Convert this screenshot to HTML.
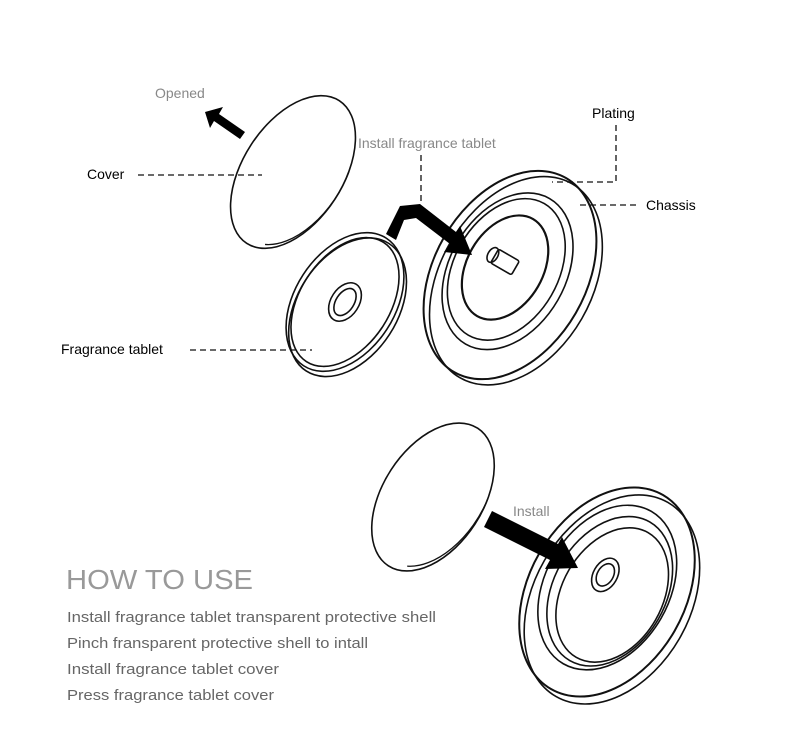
<!DOCTYPE html>
<html><head><style>body{margin:0;background:#fff}svg{display:block}</style></head><body>
<svg width="800" height="740" viewBox="0 0 800 740" xmlns="http://www.w3.org/2000/svg" font-family="Liberation Sans, sans-serif">
<rect width="800" height="740" fill="#fff"/>
<g fill="none" stroke="#111" stroke-width="1.6">
<!-- top cover -->
<g transform="translate(293,172) rotate(33)">
<ellipse rx="50" ry="85"/>
<path d="M47,-30 A48,82 0 0 1 16,76" stroke-width="1.3"/>
</g>
<!-- tablet -->
<g transform="translate(345,302) rotate(33)">
<ellipse cx="5" cy="3" rx="50" ry="76"/>
<ellipse rx="50" ry="76"/>
<ellipse rx="45" ry="71"/>
<ellipse rx="14" ry="21"/>
<ellipse rx="9" ry="15"/>
</g>
<!-- chassis -->
<g transform="translate(510,275) rotate(30)">
<ellipse cx="8" cy="2" rx="76" ry="112"/>
<ellipse rx="76" ry="112" stroke-width="2"/>
<ellipse cx="-4" cy="-2" rx="58" ry="84"/>
<ellipse cx="-6" cy="-3" rx="52" ry="76"/>
<ellipse cx="-8" cy="-4" rx="38" ry="56" stroke-width="2.2"/>
</g>
<g transform="translate(505,262) rotate(30)">
<rect x="-12" y="-8" width="24" height="16" rx="2"/>
<ellipse cx="-14" cy="0" rx="5" ry="8"/>
</g>
<!-- bottom cover -->
<g transform="translate(433,497) rotate(33)">
<ellipse rx="50" ry="82"/>
<path d="M47,-28 A48,80 0 0 1 16,72" stroke-width="1.3"/>
</g>
<!-- bottom chassis -->
<g transform="translate(607,592) rotate(30)">
<ellipse cx="8" cy="4" rx="78" ry="112"/>
<ellipse rx="78" ry="112" stroke-width="2"/>
<ellipse cx="-2" cy="-4" rx="62" ry="88"/>
<ellipse cx="2" cy="-2" rx="56" ry="80"/>
<ellipse cx="6" cy="0" rx="50" ry="72"/>
<ellipse cx="-10" cy="-14" rx="12" ry="18"/>
<ellipse cx="-10" cy="-14" rx="8" ry="12"/>
</g>
</g>
<!-- arrows -->
<g fill="#000">
<polygon points="205,112 223,107 219,114 245,132 240,139 214,121 210,128"/>
<path d="M386,234 L400,206 L420,204 L456,232 L460,226 L472,255 L444,252 L450,244 L416,218 L404,220 L396,240 Z"/>
<polygon points="488,519 492,511 558,544 562,537 578,568 545,569 550,560 484,527"/>
</g>
<!-- dashed leaders -->
<g stroke="#111" stroke-width="1.3" stroke-dasharray="6,4" fill="none">
<line x1="138" y1="175" x2="262" y2="175"/>
<line x1="190" y1="350" x2="312" y2="350"/>
<line x1="421" y1="155" x2="421" y2="203"/>
<polyline points="616,125 616,182 552,182"/>
<line x1="580" y1="205" x2="640" y2="205"/>
</g>
<g font-size="14">
<text x="155" y="98" fill="#888">Opened</text>
<text x="87" y="179" fill="#000">Cover</text>
<text x="358" y="148" fill="#888">Install fragrance tablet</text>
<text x="592" y="118" fill="#000">Plating</text>
<text x="646" y="210" fill="#000">Chassis</text>
<text x="61" y="354" fill="#000">Fragrance tablet</text>
<text x="513" y="516" fill="#888">Install</text>
</g>
<text x="66" y="589" font-size="28" fill="#999" textLength="187" lengthAdjust="spacingAndGlyphs">HOW TO USE</text>
<g font-size="14.5" fill="#666">
<text x="67" y="622" textLength="369" lengthAdjust="spacingAndGlyphs">Install fragrance tablet transparent protective shell</text>
<text x="67" y="648" textLength="301" lengthAdjust="spacingAndGlyphs">Pinch fransparent protective shell to intall</text>
<text x="67" y="674" textLength="212" lengthAdjust="spacingAndGlyphs">Install fragrance tablet cover</text>
<text x="67" y="700" textLength="207" lengthAdjust="spacingAndGlyphs">Press fragrance tablet cover</text>
</g>
</svg>
</body></html>
